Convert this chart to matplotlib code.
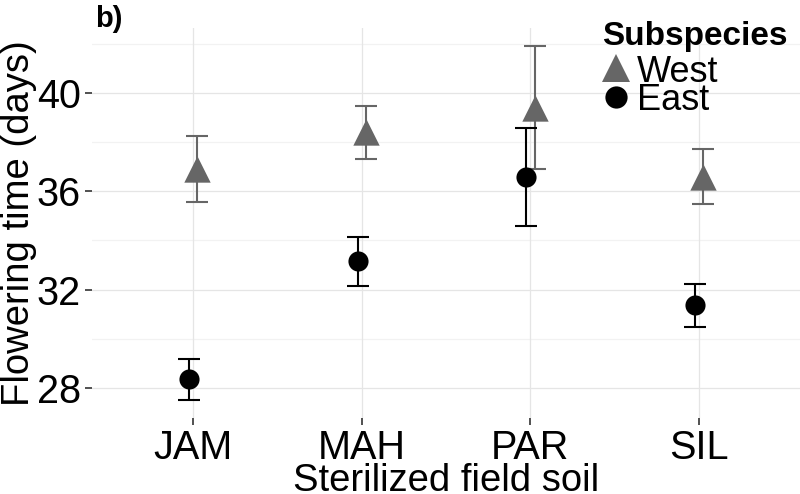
import matplotlib
matplotlib.use("Agg")
import matplotlib.pyplot as plt
import numpy as np
from matplotlib.lines import Line2D

plt.rcParams['font.family'] = ['Liberation Sans', 'DejaVu Sans']

# Data
soils = ['JAM', 'MAH', 'PAR', 'SIL']
west_mean = [36.9, 38.4, 39.4, 36.6]
west_err = [1.34, 1.08, 2.5, 1.12]
east_mean = [28.35, 33.15, 36.57, 31.36]
east_err = [0.83, 1.0, 2.0, 0.87]

y_ticks = [28, 32, 36, 40]
y_minor = [30, 34, 38, 42]

west_col = '#666666'
east_col = '#000000'

W, H = 800, 494
fig = plt.figure(figsize=(W / 100, H / 100), dpi=100)
ax = fig.add_axes([92 / W, 76 / H, 708 / W, 390 / H])

x = np.arange(1, len(soils) + 1)
dodge = 0.025

# grid lines
for v in y_ticks:
    ax.axhline(v, color='#E5E5E5', lw=0.9, zorder=0)
for v in y_minor:
    ax.axhline(v, color='#F2F2F2', lw=0.9, zorder=0)
for v in x:
    ax.axvline(v, color='#E5E5E5', lw=0.9, zorder=0)

# error bars and points
ax.errorbar(x + dodge, west_mean, yerr=west_err, fmt='none', ecolor=west_col,
            elinewidth=1.5, capsize=8, capthick=1.5, zorder=2)
ax.errorbar(x - dodge, east_mean, yerr=east_err, fmt='none', ecolor=east_col,
            elinewidth=1.5, capsize=8, capthick=1.5, zorder=2)
ax.scatter(x + dodge, west_mean, marker='^', s=360, color=west_col, lw=0, zorder=3)
ax.scatter(x - dodge, east_mean, marker='o', s=210, color=east_col, lw=0, zorder=3)

ax.set_xlim(0.4, 4.6)
ax.set_ylim(26.78, 42.64)
ax.set_xticks(x)
ax.set_xticklabels(soils)
ax.set_yticks(y_ticks)
ax.tick_params(axis='both', labelsize=28.5, length=5, width=1.2, color='#333333',
               labelcolor='black')
ax.tick_params(axis='x', pad=3)
ax.tick_params(axis='y', pad=3)
for s in ax.spines.values():
    s.set_visible(False)

ax.set_xlabel('Sterilized field soil', fontsize=27.5, labelpad=-3)
ax.set_ylabel('Flowering time (days)', fontsize=27.5, labelpad=0)

fig.text(95 / W, 1 - 27 / H, 'b)', fontsize=21, fontweight='bold',
         va='baseline', ha='left')

# legend, placed by hand
fig.text(602 / W, 1 - 45 / H, 'Subspecies', fontsize=24, fontweight='bold',
         va='baseline', ha='left')
fig.text(637 / W, 1 - 82 / H, 'West', fontsize=26, va='baseline', ha='left')
fig.text(637 / W, 1 - 110 / H, 'East', fontsize=26, va='baseline', ha='left')
fig.add_artist(Line2D([616 / W], [1 - 68 / H], transform=fig.transFigure,
                      marker='^', color=west_col, ls='none', markersize=20, mew=0))
fig.add_artist(Line2D([616 / W], [1 - 97 / H], transform=fig.transFigure,
                      marker='o', color=east_col, ls='none', markersize=16, mew=0))

fig.savefig('out.png', dpi=100)
